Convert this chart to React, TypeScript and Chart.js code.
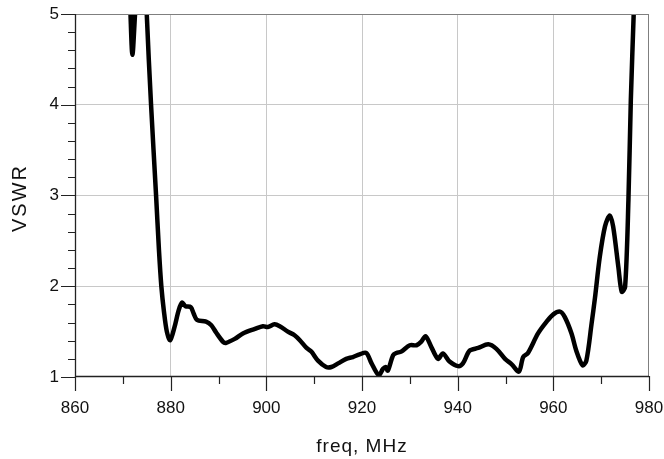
import React, { useEffect, useRef } from "react";
import { Chart, registerables } from "chart.js";

Chart.register(...registerables);

const freqMHz: number[] = [
  870.8, 871.6, 872.0, 872.55, 873.0, 874.0, 875.0, 875.9, 876.95, 877.55, 878.05,
  878.6, 879.2, 879.9, 880.8, 881.7, 882.4, 883.1, 884.2, 884.8, 885.5, 887.4,
  888.5, 889.5, 890.9, 891.5, 893.4, 895.1, 897.6, 899.3, 900.3, 901.7, 902.8,
  904.5, 905.9, 907.0, 908.4, 909.4, 910.8, 912.5, 913.6, 915.0, 916.7, 918.1,
  919.5, 920.9, 922.0, 923.5, 924.4, 925.0, 925.4, 926.5, 927.2, 928.2, 930.0,
  931.4, 932.4, 933.3, 934.5, 935.9, 936.9, 938.3, 940.1, 941.1, 942.5, 944.3,
  946.4, 948.1, 949.9, 951.3, 952.8, 953.7, 954.7, 956.8, 958.6, 960.0, 961.4,
  962.4, 963.8, 964.8, 966.1, 966.9, 968.0, 968.7, 969.7, 970.8, 971.8, 972.5,
  973.6, 974.3, 975.0, 975.7, 976.2, 976.8, 977.4,
];

const vswr: number[] = [
  6.2, 5.0, 4.55, 5.0, 5.4, 6.5, 5.0, 4.0, 3.0, 2.4, 2.0,
  1.72, 1.5, 1.405, 1.55, 1.74, 1.82, 1.78, 1.77, 1.7, 1.63, 1.61,
  1.57, 1.49, 1.39, 1.375, 1.42, 1.48, 1.53, 1.56, 1.55, 1.58, 1.56,
  1.5, 1.46, 1.405, 1.32, 1.28, 1.18, 1.11, 1.11, 1.15, 1.2, 1.22,
  1.25, 1.265, 1.15, 1.02, 1.09, 1.11, 1.07, 1.24, 1.265, 1.28, 1.35,
  1.35, 1.39, 1.45, 1.33, 1.2, 1.26, 1.17, 1.12, 1.15, 1.29, 1.32,
  1.36, 1.31, 1.2, 1.14, 1.06, 1.22, 1.265, 1.48, 1.61, 1.69, 1.72,
  1.66, 1.48, 1.29, 1.13, 1.18, 1.59, 1.87, 2.32, 2.66, 2.78, 2.66,
  2.21, 1.94, 1.99, 2.95, 4.05, 5.0, 6.0,
];

const xMin = 860;
const xMax = 980;
const yMin = 1;
const yMax = 5;
const xTitle = "freq, MHz";
const yTitle = "VSWR";

const FONT = "'Liberation Sans', Arial, Helvetica, sans-serif";

const isMultiple = (v: number, step: number) =>
  Math.abs(v / step - Math.round(v / step)) < 1e-6;

const framePlugin = {
  id: "frame",
  afterDraw(chart: any) {
    const { ctx, chartArea } = chart;
    const { left, right, top, bottom } = chartArea;
    const xs = chart.scales.x;
    const ys = chart.scales.y;
    ctx.save();
    ctx.strokeStyle = "#7f7f7f";
    ctx.lineWidth = 1;
    ctx.beginPath();
    ctx.moveTo(left, Math.round(top) + 0.5);
    ctx.lineTo(right, Math.round(top) + 0.5);
    ctx.moveTo(Math.round(right) - 0.5, top);
    ctx.lineTo(Math.round(right) - 0.5, bottom);
    ctx.stroke();
    ctx.strokeStyle = "#222";
    ctx.lineWidth = 1.3;
    ctx.beginPath();
    ctx.moveTo(Math.round(left) + 0.5, top);
    ctx.lineTo(Math.round(left) + 0.5, bottom);
    ctx.moveTo(left, Math.round(bottom) - 0.5);
    ctx.lineTo(right, Math.round(bottom) - 0.5);
    ctx.stroke();
    ctx.lineWidth = 1.2;
    ctx.beginPath();
    for (let v = yMin; v <= yMax + 1e-9; v += 0.2) {
      const py = Math.round(ys.getPixelForValue(v)) + 0.5;
      const len = isMultiple(v, 1) ? 15 : 8;
      ctx.moveTo(left + 1, py);
      ctx.lineTo(left + 1 - len, py);
    }
    for (let v = xMin; v <= xMax + 1e-9; v += 10) {
      const px = Math.round(xs.getPixelForValue(v)) + 0.5;
      const len = isMultiple(v, 20) ? 15 : 8;
      ctx.moveTo(px, bottom - 1);
      ctx.lineTo(px, bottom - 1 + len);
    }
    ctx.stroke();
    ctx.fillStyle = "#111";
    ctx.font = `19px ${FONT}`;
    try {
      (ctx as any).letterSpacing = "1px";
    } catch (e) {}
    ctx.textAlign = "center";
    ctx.textBaseline = "alphabetic";
    ctx.fillText(xTitle, 362, 452);
    ctx.translate(26, 199);
    ctx.rotate(-Math.PI / 2);
    ctx.font = `20px ${FONT}`;
    try {
      (ctx as any).letterSpacing = "2px";
    } catch (e) {}
    ctx.fillText(yTitle, 1, 0);
    ctx.restore();
  },
};

export default function App() {
  const ref = useRef<HTMLCanvasElement | null>(null);

  useEffect(() => {
    if (!ref.current) return;
    const points = freqMHz.map((f, i) => ({ x: f, y: vswr[i] }));
    const chart = new Chart(ref.current, {
      type: "line",
      data: {
        datasets: [
          {
            data: points,
            borderColor: "#000",
            borderWidth: 4.5,
            pointRadius: 0,
            fill: false,
            tension: 0.3,
            borderJoinStyle: "round",
            borderCapStyle: "round",
          },
        ],
      },
      options: {
        responsive: false,
        animation: false,
        events: [],
        layout: { padding: { top: 14, right: 15, left: 0, bottom: 0 } },
        plugins: {
          legend: { display: false },
          tooltip: { enabled: false },
          title: { display: false },
        },
        scales: {
          x: {
            type: "linear",
            min: xMin,
            max: xMax,
            border: { display: false },
            afterFit: (s: any) => {
              s.height = 82;
              s.paddingLeft = 0;
              s.paddingRight = 0;
              s.paddingTop = 0;
              s.paddingBottom = 0;
            },
            grid: {
              drawTicks: false,
              color: (c: any) => {
                const v = c.tick && c.tick.value;
                if (v === undefined) return "rgba(0,0,0,0)";
                if (isMultiple(v, 20) && v > xMin && v < xMax) return "#c8c8c8";
                return "rgba(0,0,0,0)";
              },
              lineWidth: 1,
            },
            ticks: {
              stepSize: 10,
              padding: 21,
              autoSkip: false,
              maxRotation: 0,
              color: "#111",
              font: { family: FONT, size: 17 },
              callback: (v: any) => (isMultiple(Number(v), 20) ? String(v) : ""),
            },
          },
          y: {
            type: "linear",
            min: yMin,
            max: yMax,
            border: { display: false },
            afterFit: (s: any) => {
              s.width = 75;
              s.paddingLeft = 0;
              s.paddingRight = 0;
              s.paddingTop = 0;
              s.paddingBottom = 0;
            },
            grid: {
              drawTicks: false,
              color: (c: any) => {
                const v = c.tick && c.tick.value;
                if (v === undefined) return "rgba(0,0,0,0)";
                if (isMultiple(v, 1) && v > yMin && v < yMax) return "#c8c8c8";
                return "rgba(0,0,0,0)";
              },
              lineWidth: 1,
            },
            ticks: {
              stepSize: 0.2,
              padding: 16,
              autoSkip: false,
              color: "#111",
              font: { family: FONT, size: 17 },
              callback: (v: any) => (isMultiple(Number(v), 1) ? String(Math.round(Number(v))) : ""),
            },
          },
        },
      },
      plugins: [framePlugin],
    });
    return () => chart.destroy();
  }, []);

  return (
    <div style={{ position: "absolute", left: 0, top: 0, width: 664, height: 459, background: "#fff" }}>
      <canvas ref={ref} width={664} height={459} style={{ display: "block" }} />
    </div>
  );
}
